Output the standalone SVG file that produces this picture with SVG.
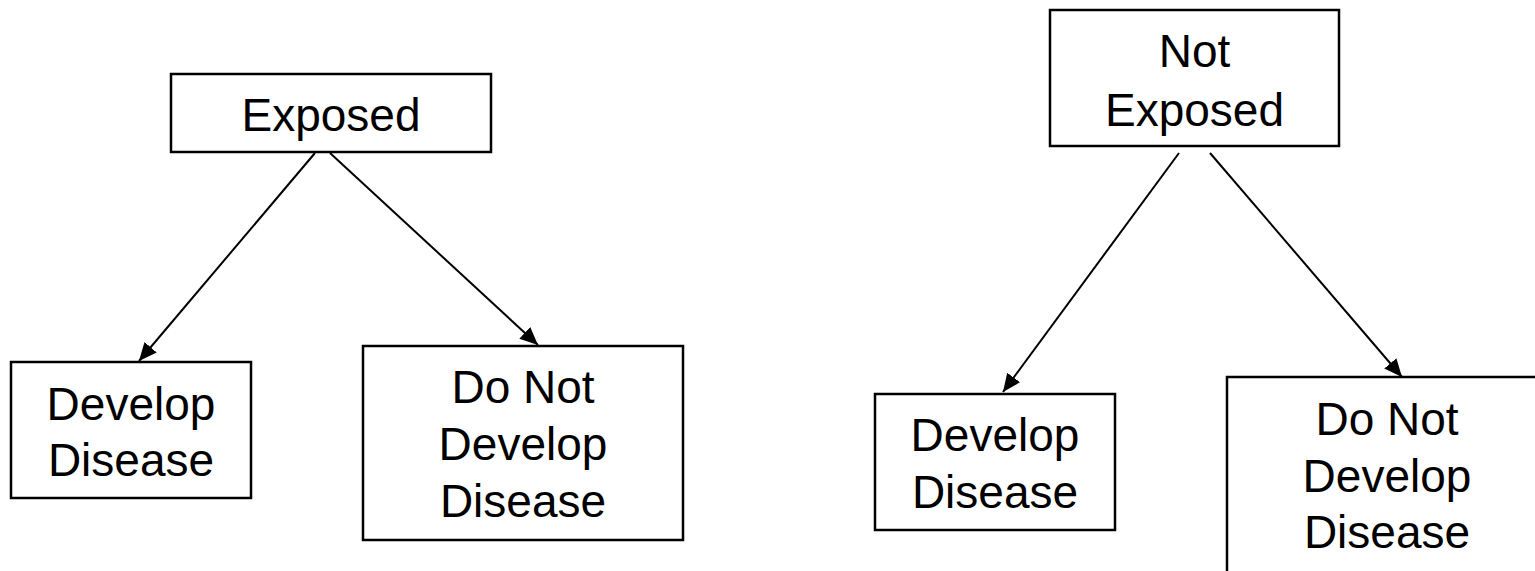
<svg xmlns="http://www.w3.org/2000/svg" width="1535" height="571" viewBox="0 0 1535 571">
<style>
.box{fill:#fff;stroke:#000;stroke-width:2.5}
.lbl{font-family:"Liberation Sans",Arial,sans-serif;font-size:46px;fill:#000;text-anchor:middle}
.conn{stroke:#000;stroke-width:2;fill:none;marker-end:url(#arr)}
</style>
<defs>
<marker id="arr" markerUnits="userSpaceOnUse" markerWidth="20" markerHeight="16" refX="18" refY="8" orient="auto">
<path d="M0,0 L18,8 L0,16 Z" fill="#000"/>
</marker>
</defs>
<rect width="1535" height="571" fill="#fff"/>
<g id="connectors">
<line class="conn" x1="315" y1="153" x2="139" y2="361"/>
<line class="conn" x1="330" y1="153" x2="538" y2="345"/>
<line class="conn" x1="1179" y1="153" x2="1003" y2="392"/>
<line class="conn" x1="1210" y1="153" x2="1402" y2="377"/>
</g>
<g id="exposed">
<rect class="box" x="171" y="74" width="320" height="78"/>
<text class="lbl" x="331" y="131">Exposed</text>
</g>
<g id="develop1">
<rect class="box" x="11" y="362" width="240" height="136"/>
<text class="lbl" x="131" y="420">Develop</text>
<text class="lbl" x="131" y="476">Disease</text>
</g>
<g id="notdevelop1">
<rect class="box" x="363" y="346" width="320" height="194"/>
<text class="lbl" x="523" y="403">Do Not</text>
<text class="lbl" x="523" y="460">Develop</text>
<text class="lbl" x="523" y="517">Disease</text>
</g>
<g id="notexposed">
<rect class="box" x="1050" y="10" width="289" height="136"/>
<text class="lbl" x="1194.5" y="67">Not</text>
<text class="lbl" x="1194.5" y="126">Exposed</text>
</g>
<g id="develop2">
<rect class="box" x="875" y="394" width="240" height="136"/>
<text class="lbl" x="995" y="451">Develop</text>
<text class="lbl" x="995" y="508">Disease</text>
</g>
<g id="notdevelop2">
<rect class="box" x="1227" y="377" width="320" height="210"/>
<text class="lbl" x="1387" y="435">Do Not</text>
<text class="lbl" x="1387" y="492">Develop</text>
<text class="lbl" x="1387" y="548">Disease</text>
</g>
</svg>
